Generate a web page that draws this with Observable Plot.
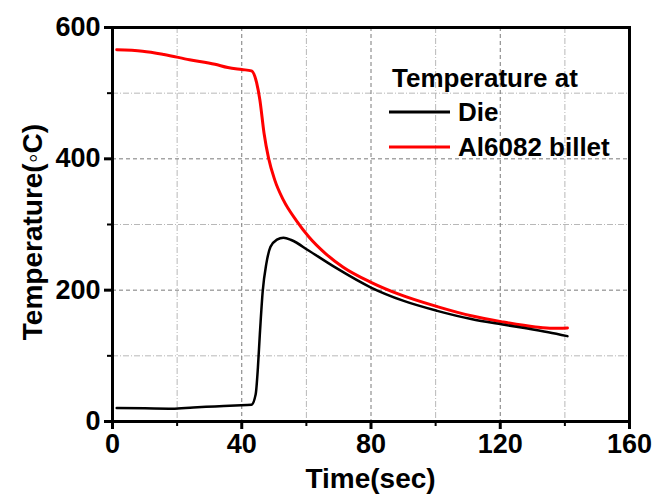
<!DOCTYPE html>
<html><head><meta charset="utf-8">
<script src="https://cdn.jsdelivr.net/npm/d3@7"></script>
<script src="https://cdn.jsdelivr.net/npm/@observablehq/plot@0.6"></script>
<style>
body{margin:0;background:#fff}
#chart svg{font-family:"Liberation Sans Narrow","Liberation Sans",Arial,sans-serif;font-weight:bold}
</style>
</head><body><div id="chart"></div>
<script>
// Die temperature (°C) vs time (sec)
const dieTime = [1.3, 10, 18.5, 25, 31.7, 38, 43, 44.3, 45, 45.6, 46.5, 47.6, 48.9, 50.9, 52.9, 55.5, 60.8, 68.8, 80, 89.9, 100.5, 111, 120.3, 128, 134.9, 140.8];
const dieTemp = [20.4, 20, 19.6, 21.5, 23, 24.5, 25.5, 41, 82, 133, 199, 240, 266, 277, 280, 276, 260, 235, 204, 184, 168.5, 156, 148, 142, 136, 130];
// Al6082 billet temperature (°C) vs time (sec)
const billetTime = [1.3, 9.3, 15.9, 23.8, 31.7, 35.7, 40, 43, 44.6, 45.6, 46.9, 48.3, 50.2, 52.9, 56.9, 60.8, 66.1, 71.4, 80, 88.6, 100.5, 111, 120.3, 130.9, 136.2, 140.8];
const billetTemp = [566, 564, 559, 551, 544, 539, 536, 534, 516, 490, 439, 401, 368, 337, 306, 281, 255, 235, 212, 194, 175, 161, 152, 144, 142, 142.5];

const seriesNames = ["Die", "Al6082 billet"];
const seriesColors = ["#000000", "#ff0000"];
const legendTitle = "Temperature at";
const xLabel = "Time(sec)";
const yLabel = "Temperature(\u25E6C)";
const xMajorTicks = [0, 40, 80, 120, 160];
const xMinorTicks = [20, 60, 100, 140];
const yMajorTicks = [0, 200, 400, 600];
const yMinorTicks = [100, 300, 500];

const die = dieTime.map((t, i) => ({t, T: dieTemp[i]}));
const billet = billetTime.map((t, i) => ({t, T: billetTemp[i]}));

const W = 670, H = 503, mL = 112, mR = 41, mT = 27, mB = 82;
const fontStack = '"Liberation Sans Narrow","Liberation Sans",Arial,sans-serif';

const plot = Plot.plot({
  width: W, height: H,
  marginLeft: mL, marginRight: mR, marginTop: mT, marginBottom: mB,
  x: {domain: [0, 160]},
  y: {domain: [0, 600]},
  style: {fontFamily: fontStack, fontWeight: "bold", fontSize: "27px", color: "#000", background: "#fff"},
  marks: [
    Plot.ruleX(xMinorTicks, {stroke: "#b8b8b8", strokeWidth: 1, strokeDasharray: "6,2,1,2"}),
    Plot.ruleY(yMinorTicks, {stroke: "#b8b8b8", strokeWidth: 1, strokeDasharray: "6,2,1,2"}),
    Plot.ruleX(xMajorTicks.slice(1, -1), {stroke: "#7a7a7a", strokeWidth: 1, strokeDasharray: "4,3"}),
    Plot.ruleY(yMajorTicks.slice(1, -1), {stroke: "#7a7a7a", strokeWidth: 1, strokeDasharray: "4,3"}),
    Plot.line(billet, {x: "t", y: "T", stroke: seriesColors[1], strokeWidth: 3, curve: "monotone-x"}),
    Plot.line(die, {x: "t", y: "T", stroke: seriesColors[0], strokeWidth: 2.5, curve: "monotone-x"}),
    Plot.frame({stroke: "#000", strokeWidth: 3}),
    Plot.axisX({ticks: xMajorTicks, tickSize: 8, tickPadding: 4, strokeWidth: 3, label: null, fontSize: 27}),
    Plot.axisX({ticks: xMinorTicks, tickSize: 5, strokeWidth: 2, text: null, label: null}),
    Plot.axisY({ticks: yMajorTicks, tickSize: 8, tickPadding: 4, strokeWidth: 3, label: null, fontSize: 27}),
    Plot.axisY({ticks: yMinorTicks, tickSize: 5, strokeWidth: 2, text: null, label: null})
  ]
});
document.getElementById("chart").appendChild(plot);

const svg = d3.select(plot);
// axis titles
svg.append("text").attr("x", (mL + W - mR) / 2).attr("y", 488)
  .attr("text-anchor", "middle").attr("font-size", 28).attr("font-weight", "bold")
  .attr("font-family", fontStack).attr("fill", "#000").text(xLabel);
svg.append("text").attr("transform", "translate(42,232) rotate(-90)")
  .attr("text-anchor", "middle").attr("font-size", 28).attr("font-weight", "bold")
  .attr("font-family", fontStack).attr("fill", "#000").text(yLabel);

// legend
const lg = svg.append("g").attr("font-family", fontStack).attr("font-weight", "bold")
  .attr("font-size", 26).attr("text-anchor", "start");
lg.append("text").attr("x", 392).attr("y", 87).attr("fill", "#000").text(legendTitle);
seriesNames.forEach((name, i) => {
  const y = 112 + i * 35;
  lg.append("line").attr("x1", 389).attr("x2", 450).attr("y1", y).attr("y2", y)
    .attr("stroke", seriesColors[i]).attr("stroke-width", 3);
  lg.append("text").attr("x", 458).attr("y", y + 9).attr("fill", "#000").text(name);
});
</script>
</body></html>
